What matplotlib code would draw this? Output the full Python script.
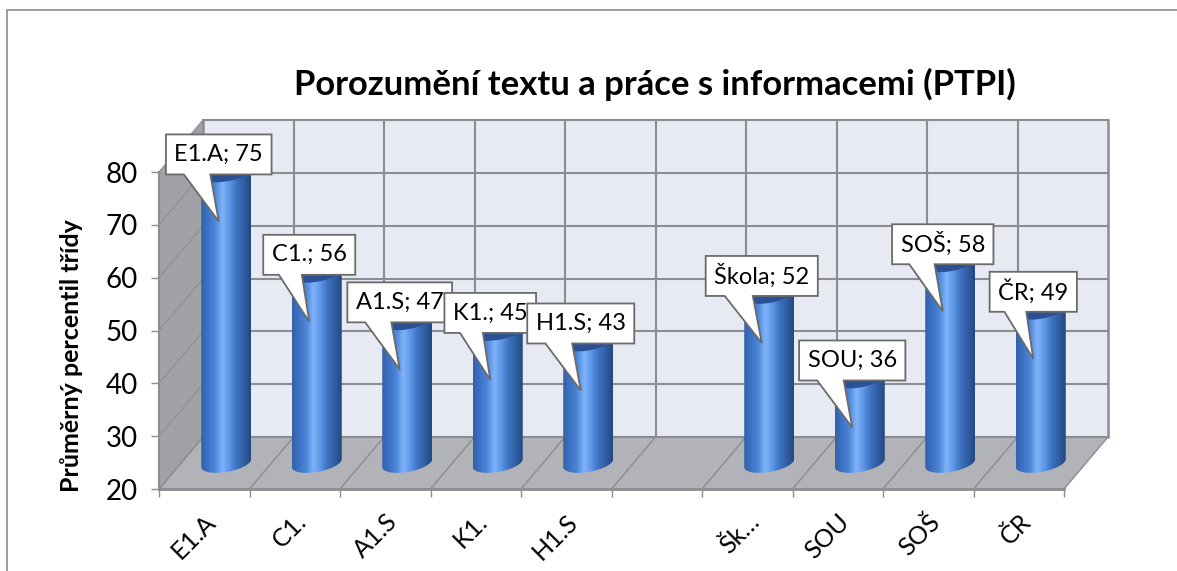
import numpy as np
import matplotlib
matplotlib.use('Agg')
import matplotlib.pyplot as plt
from matplotlib.lines import Line2D
from matplotlib.patches import Polygon, PathPatch
from matplotlib.path import Path

# Data
categories = ['E1.A', 'C1.', 'A1.S', 'K1.', 'H1.S', '', 'Škola', 'SOU', 'SOŠ', 'ČR']
tick_labels = ['E1.A', 'C1.', 'A1.S', 'K1.', 'H1.S', '', 'Šk…', 'SOU', 'SOŠ', 'ČR']
values = [75, 56, 47, 45, 43, None, 52, 36, 58, 49]
y_ticks = [20, 30, 40, 50, 60, 70, 80]

plt.rcParams['font.family'] = ['Lato', 'DejaVu Sans']

# Scale of the axes, pixels per unit
PX_X = 90.5
PX_Y = 5.283
DEPTH_X = 44 / PX_X
DEPTH_Y = 52 / PX_Y
GRID = '#8b8d92'

fig = plt.figure(figsize=(11.77, 5.71), dpi=100)
ax = fig.add_axes([159 / 1177, (571 - 489) / 571, 950 / 1177, 370 / 571])
x_left, x_right = -0.5, 9.5
y_low, y_high = 20, 80
ax.set_xlim(x_left, x_left + 950 / PX_X)
ax.set_ylim(y_low, y_low + 370 / PX_Y)

# Walls and floor
ax.add_patch(Polygon([(x_left + DEPTH_X, y_low + DEPTH_Y), (x_right + DEPTH_X, y_low + DEPTH_Y),
                      (x_right + DEPTH_X, y_high + DEPTH_Y), (x_left + DEPTH_X, y_high + DEPTH_Y)],
                     fc='#e7eaf3', ec='none', zorder=1))
ax.add_patch(Polygon([(x_left, y_low), (x_left + DEPTH_X, y_low + DEPTH_Y),
                      (x_left + DEPTH_X, y_high + DEPTH_Y), (x_left, y_high)],
                     fc='#a0a2a8', ec='none', zorder=1))
ax.add_patch(Polygon([(x_left, y_low), (x_right, y_low),
                      (x_right + DEPTH_X, y_low + DEPTH_Y), (x_left + DEPTH_X, y_low + DEPTH_Y)],
                     fc='#b1b3b9', ec='none', zorder=1))

# Gridlines
for v in y_ticks:
    ax.plot([x_left, x_left + DEPTH_X], [v, v + DEPTH_Y], color='#8f9196', lw=0.9, zorder=2)
    ax.plot([x_left + DEPTH_X, x_right + DEPTH_X], [v + DEPTH_Y, v + DEPTH_Y],
            color=GRID, lw=1.5, zorder=2, clip_on=False)
for i in range(len(categories) + 1):
    bx = x_left + i
    ax.plot([bx, bx + DEPTH_X], [y_low, y_low + DEPTH_Y], color=GRID, lw=1.0, zorder=2, clip_on=False)
    ax.plot([bx + DEPTH_X, bx + DEPTH_X], [y_low + DEPTH_Y, y_high + DEPTH_Y],
            color=GRID, lw=1.5 if i not in (0, 10) else 1.8, zorder=2, clip_on=False)
ax.plot([x_left, x_left], [y_low, y_high], color=GRID, lw=1.2, zorder=2)

# Cylinders
colors = np.array([[0.20, 0.38, 0.67], [0.24, 0.45, 0.77], [0.30, 0.53, 0.85], [0.50, 0.70, 0.98],
                   [0.36, 0.59, 0.91], [0.24, 0.45, 0.75], [0.19, 0.37, 0.64], [0.14, 0.28, 0.50]])
stops = np.linspace(0, 1, len(colors))
grad = np.array([[np.interp(t, stops, colors[:, c]) for c in range(3)]
                 for t in np.linspace(0, 1, 200)])[np.newaxis, :, :]

RAD = 25 / PX_X
TILT = 4 / PX_Y
MINOR = 9 / PX_Y
t_low = np.linspace(np.pi, 2 * np.pi, 40)
t_up = np.linspace(0, np.pi, 40)
t_all = np.linspace(0, 2 * np.pi, 80)


def ellipse(cx, cy, t):
    return np.column_stack([cx - RAD * np.cos(t), cy - TILT * np.cos(t) + MINOR * np.sin(t)])


for i, v in enumerate(values):
    if v is None:
        continue
    cx = i + DEPTH_X / 2
    top = v + DEPTH_Y / 2
    base = y_low + DEPTH_Y / 2
    pts = np.vstack([ellipse(cx, base, t_low), ellipse(cx, top, t_up)])
    body = PathPatch(Path(np.vstack([pts, pts[0]]), closed=True), fc='none', ec='none', zorder=3)
    ax.add_patch(body)
    im = ax.imshow(grad, extent=[cx - RAD, cx + RAD, base - 3, top + 3], aspect='auto',
                   zorder=3, interpolation='bilinear')
    im.set_clip_path(body)
    ax.add_patch(Polygon(ellipse(cx, top, t_all), fc='#2b5094', ec='none', zorder=4))

ax.set_xlim(x_left, x_left + 950 / PX_X)
ax.set_ylim(y_low, y_low + 370 / PX_Y)

# Callout labels
renderer = fig.canvas.get_renderer()
for i, v in enumerate(values):
    if v is None:
        continue
    tip_x = i + DEPTH_X / 2 - 7.5 / PX_X
    tip_y = v + DEPTH_Y / 2 - 49 / PX_Y
    low = tip_y + 47 / PX_Y
    high = tip_y + 87 / PX_Y
    txt = ax.text(tip_x, (low + high) / 2, f'{categories[i]}; {v}', fontsize=17, color='black',
                  ha='center', va='center', zorder=11 + i * 2, clip_on=False)
    w = (txt.get_window_extent(renderer).width + 17) / PX_X
    ax.add_patch(Polygon([(tip_x - w / 2, low), (tip_x - w / 2, high), (tip_x + w / 2, high),
                          (tip_x + w / 2, low), (tip_x - 0.08 * w, low), (tip_x, tip_y),
                          (tip_x - 0.33 * w, low)],
                         fc='white', ec='#6b6b6b', lw=1.3, zorder=10 + i * 2, clip_on=False))

# Axes
for s in ['top', 'right']:
    ax.spines[s].set_visible(False)
ax.spines['left'].set_bounds(y_low, y_high)
ax.spines['bottom'].set_bounds(x_left, x_right)
ax.spines['left'].set_color(GRID)
ax.spines['bottom'].set_color(GRID)
ax.spines['left'].set_linewidth(1.5)
ax.spines['bottom'].set_linewidth(2)
ax.spines['left'].set_zorder(2)
ax.patch.set_visible(False)

ax.set_yticks(y_ticks)
ax.tick_params(axis='y', length=6, width=1, color=GRID, labelsize=20, pad=9)
ax.set_xticks(range(len(categories)))
ax.set_xticklabels(tick_labels, rotation=45, ha='right', va='top', rotation_mode='anchor', fontsize=18)
ax.tick_params(axis='x', which='major', length=0, pad=15)
ax.set_xticks(np.arange(x_left, x_right + 0.5), minor=True)
ax.tick_params(axis='x', which='minor', length=6, width=1, color=GRID)

fig.text(72 / 1177, 1 - 356 / 571, 'Průměrný percentil třídy', rotation=90, ha='center', va='center',
         fontsize=18, fontweight='bold')
fig.text(655 / 1177, 1 - 84 / 571, 'Porozumění textu a práce s informacemi (PTPI)', ha='center', va='center',
         fontsize=24.9, fontweight='bold')

# Outer frame of the chart
fig.add_artist(Line2D([7 / 1177, 7 / 1177, 1], [0, 1 - 10 / 571, 1 - 10 / 571], color='#8c8c8c', lw=1.2))

plt.savefig('out.png', dpi=100)
